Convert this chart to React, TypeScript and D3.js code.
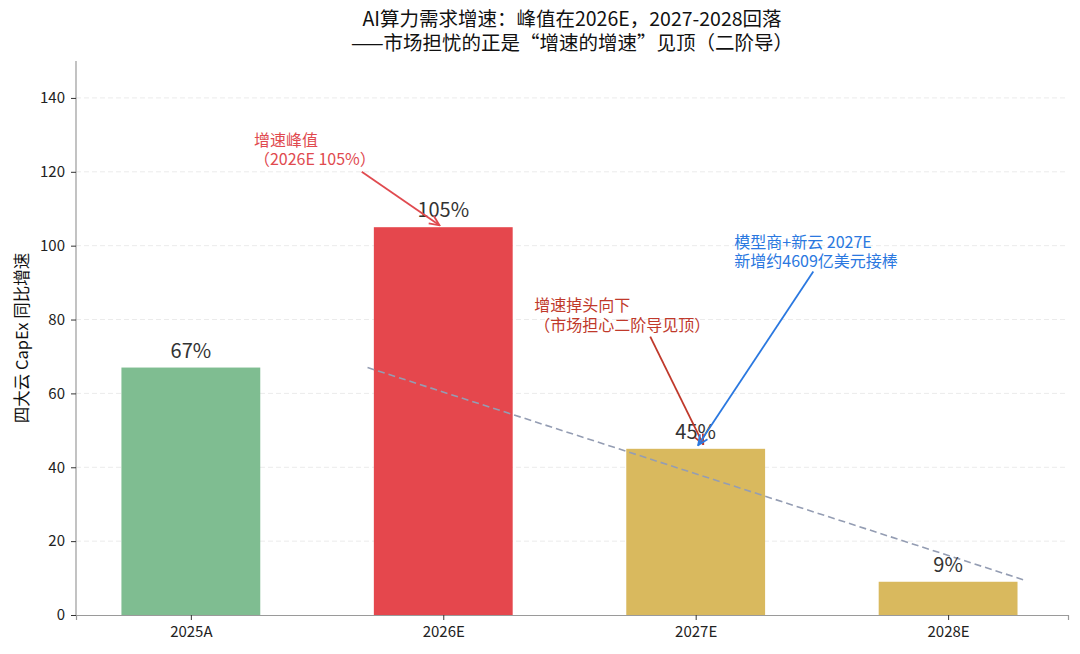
import * as d3 from 'd3';
import React, { useEffect, useRef } from 'react';

// values
const categories = ['2025A', '2026E', '2027E', '2028E'];
const growth = [67, 105, 45, 9];
const barColors = ['#7fbd91', '#e5474d', '#d9b95e', '#d9b95e'];
const yTicks = [0, 20, 40, 60, 80, 100, 120, 140];
const trendLine = [
    [0.7, 67],
    [3.3, 9.5],
];
const titleLines = ['AI算力需求增速：峰值在2026E，2027-2028回落', '——市场担忧的正是“增速的增速”见顶（二阶导）'];

// annotations: text anchor and arrow from/to in data units (x index, y %)
const notes = [
    { lines: ['增速峰值', '（2026E 105%）'], text: [0.25, 127], from: [0.677, 120], to: [0.985, 105.5], color: '#e04a4f' },
    { lines: ['增速掉头向下', '（市场担心二阶导见顶）'], text: [1.36, 82.2], from: [1.82, 75.4], to: [2.03, 46.2], color: '#c0392b' },
    { lines: ['模型商+新云 2027E', '新增约4609亿美元接棒'], text: [2.153, 99.4], from: [2.466, 93], to: [2.01, 46], color: '#2a78e0' },
];

const FONT = '"Noto Sans CJK SC", "Noto Sans", sans-serif';

export default () => {
    const ref = useRef<any>();

    useEffect(() => {
        const width = 1080;
        const height = 654;
        const margin = { top: 61, right: 12, bottom: 39, left: 76 };
        const bw = width - margin.left - margin.right;
        const bh = height - margin.top - margin.bottom;

        const svg = d3.select<any, any>(ref.current)
            .attr('width', width)
            .attr('height', height)
            .style('font-family', FONT);
        svg.selectAll('*').remove();

        const defs = svg.append('defs');
        notes.forEach((n, i) => {
            defs.append('marker')
                .attr('id', `head${i}`)
                .attr('viewBox', '0 0 12 12')
                .attr('refX', 11)
                .attr('refY', 6)
                .attr('markerWidth', 12)
                .attr('markerHeight', 12)
                .attr('markerUnits', 'userSpaceOnUse')
                .attr('orient', 'auto')
                .append('path')
                .attr('d', 'M1,1.5 L11,6 L1,10.5')
                .attr('fill', 'none')
                .attr('stroke', n.color)
                .attr('stroke-width', 1.8);
        });

        const stage = svg.append('g').attr('transform', `translate(${margin.left},${margin.top})`);

        // linear x so that fractional positions work for trend and notes
        const xScale = d3.scaleLinear().domain([-0.455, 3.475]).range([0, bw]);
        const yScale = d3.scaleLinear().domain([0, 150]).range([bh, 0]);
        const barW = 0.55;

        // grid
        stage.append('g')
            .selectAll('line')
            .data(yTicks.slice(1))
            .join('line')
            .attr('x1', 0)
            .attr('x2', bw)
            .attr('y1', (d) => yScale(d))
            .attr('y2', (d) => yScale(d))
            .attr('stroke', '#ebebeb')
            .attr('stroke-dasharray', '5,3')
            .attr('stroke-width', 1);

        // bars
        stage.append('g')
            .selectAll('rect')
            .data(growth)
            .join('rect')
            .attr('x', (d, i) => xScale(i - barW / 2))
            .attr('y', (d) => yScale(d))
            .attr('width', xScale(barW) - xScale(0))
            .attr('height', (d) => bh - yScale(d))
            .attr('fill', (d, i) => barColors[i]);

        // trend
        stage.append('path')
            .attr('d', d3.line().x((d: any) => xScale(d[0])).y((d: any) => yScale(d[1]))(trendLine as any))
            .attr('fill', 'none')
            .attr('stroke', '#949db3')
            .attr('stroke-width', 1.6)
            .attr('stroke-dasharray', '7,4');

        // value labels
        stage.append('g')
            .selectAll('text')
            .data(growth)
            .join('text')
            .attr('x', (d, i) => xScale(i))
            .attr('y', (d) => yScale(d) - 10)
            .attr('text-anchor', 'middle')
            .attr('font-size', 20)
            .attr('fill', '#333')
            .text((d) => `${d}%`);

        // axes
        const xAxis = d3.axisBottom(xScale)
            .tickValues(categories.map((c, i) => i))
            .tickFormat((d: any) => categories[d])
            .tickSizeOuter(0)
            .tickSize(5)
            .tickPadding(6);
        const gx = stage.append('g').attr('transform', `translate(0,${bh})`).call(xAxis);
        const yAxis = d3.axisLeft(yScale).tickValues(yTicks).tickSizeOuter(0).tickSize(5).tickPadding(6);
        const gy = stage.append('g').call(yAxis);
        [gx, gy].forEach((g) => {
            g.select('.domain').attr('stroke', '#9a9a9a').attr('stroke-width', 1.2);
            g.selectAll('.tick line').attr('stroke', '#333');
            g.selectAll('.tick text').attr('font-size', 15).attr('fill', '#222').style('font-family', FONT);
        });
        gy.select('.domain').attr('d', `M0,0V${bh}`);

        // annotations, one text per line
        notes.forEach((n, i) => {
            n.lines.forEach((l, k) => {
                stage.append('text')
                    .attr('x', xScale(n.text[0]))
                    .attr('y', yScale(n.text[1]) + k * 19.5)
                    .attr('font-size', 16)
                    .attr('fill', n.color)
                    .text(l);
            });
            stage.append('line')
                .attr('x1', xScale(n.from[0]))
                .attr('y1', yScale(n.from[1]))
                .attr('x2', xScale(n.to[0]))
                .attr('y2', yScale(n.to[1]))
                .attr('stroke', n.color)
                .attr('stroke-width', 1.8)
                .attr('marker-end', `url(#head${i})`);
        });

        // y label
        svg.append('text')
            .attr('transform', `translate(28,${margin.top + bh / 2}) rotate(-90)`)
            .attr('text-anchor', 'middle')
            .attr('font-size', 16.5)
            .attr('fill', '#111')
            .text('四大云 CapEx 同比增速');

        // title
        svg.append('g')
            .selectAll('text')
            .data(titleLines)
            .join('text')
            .attr('x', margin.left + bw / 2)
            .attr('y', (d, i) => 26 + i * 24)
            .attr('text-anchor', 'middle')
            .attr('font-size', 19.5)
            .attr('fill', '#111')
            .text((d) => d);
    }, []);

    return (
        <svg ref={ref} style={{ position: 'absolute', left: 0, top: 0 }}></svg>
    );
};
